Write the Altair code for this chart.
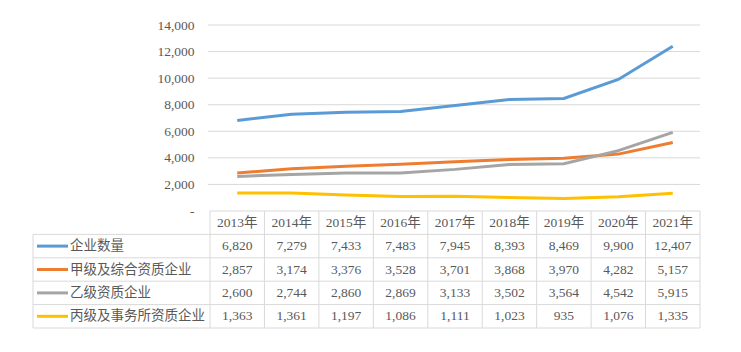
import altair as alt
import pandas as pd

# ---------------- data ----------------
years = ["2013年", "2014年", "2015年", "2016年", "2017年", "2018年", "2019年", "2020年", "2021年"]
series = ["企业数量", "甲级及综合资质企业", "乙级资质企业", "丙级及事务所资质企业"]
v_total = [6820, 7279, 7433, 7483, 7945, 8393, 8469, 9900, 12407]
v_jia = [2857, 3174, 3376, 3528, 3701, 3868, 3970, 4282, 5157]
v_yi = [2600, 2744, 2860, 2869, 3133, 3502, 3564, 4542, 5915]
v_bing = [1363, 1361, 1197, 1086, 1111, 1023, 935, 1076, 1335]
colors = ["#5b9bd5", "#ed7d31", "#a5a5a5", "#ffc000"]
y_ticks = [0, 2000, 4000, 6000, 8000, 10000, 12000, 14000]
header_key = "年份"

values = [v_total, v_jia, v_yi, v_bing]
rows = []
for s, vals in zip(series, values):
    for y, v in zip(years, vals):
        rows.append({"series": s, "year": y, "value": v, "label": f"{v:,}"})
df = pd.DataFrame(rows)

# ---------------- layout ----------------
W, H = 667, 303          # plot area
LABEL_W = 177            # label column of the table
LINE_H = 186             # height of the line-chart part
GRID = "#d9d9d9"
TEXT = "#595959"
SERIF = "Liberation Serif, Noto Sans CJK SC"
CJK = "Noto Sans CJK SC"

x_scale = alt.Scale(type="band", domain=years, range=[LABEL_W, W], paddingInner=0, paddingOuter=0)
y_line = alt.Scale(domain=[0, 14000], range=[LINE_H, 0], nice=False, zero=True)
y_tab = alt.Scale(type="band", domain=[header_key] + series, range=[LINE_H, H], paddingInner=0, paddingOuter=0)
c_scale = alt.Scale(domain=series, range=colors)

y_axis = alt.Axis(values=y_ticks, title=None, domain=False, ticks=False, tickSize=0,
                  grid=False, offset=-(LABEL_W - 2), labelPadding=14,
                  labelExpr="datum.value === 0 ? '-    ' : format(datum.value, ',')",
                  labelFont=SERIF, labelFontSize=13.5, labelColor=TEXT)

# gridlines + y axis
grid = alt.Chart(pd.DataFrame({"tick": y_ticks[1:]})).mark_rule(color=GRID, strokeWidth=1).encode(
    y=alt.Y("tick:Q", scale=y_line, axis=y_axis),
    x=alt.value(LABEL_W - 2), x2=alt.value(W),
)

lines = alt.Chart(df).mark_line(strokeWidth=3).encode(
    x=alt.X("year:N", scale=x_scale, bandPosition=0.5, axis=None),
    y=alt.Y("value:Q", scale=y_line, axis=y_axis),
    color=alt.Color("series:N", scale=c_scale, legend=None),
)

upper = alt.layer(grid, lines)

# ---------------- table ----------------
hdr_df = pd.DataFrame({"year": years, "row": header_key})
ser_df = pd.DataFrame({"series": series})

h_lines = alt.Chart(ser_df).mark_rule(color=GRID, strokeWidth=1).encode(
    y=alt.Y("series:N", scale=y_tab, bandPosition=0, axis=None),
    x=alt.value(0), x2=alt.value(W),
)
bottom_line = alt.Chart(ser_df.tail(1)).mark_rule(color=GRID, strokeWidth=1).encode(
    y=alt.Y("series:N", scale=y_tab, bandPosition=1, axis=None),
    x=alt.value(0), x2=alt.value(W),
)
top_line = alt.Chart(hdr_df.head(1)).mark_rule(color=GRID, strokeWidth=1).encode(
    y=alt.Y("row:N", scale=y_tab, bandPosition=0, axis=None),
    x=alt.value(LABEL_W), x2=alt.value(W),
)
v_lines = alt.Chart(hdr_df).mark_rule(color=GRID, strokeWidth=1).encode(
    x=alt.X("year:N", scale=x_scale, bandPosition=0, axis=None),
    y=alt.value(LINE_H), y2=alt.value(H),
)
right_line = alt.Chart(hdr_df.tail(1)).mark_rule(color=GRID, strokeWidth=1).encode(
    x=alt.X("year:N", scale=x_scale, bandPosition=1, axis=None),
    y=alt.value(LINE_H), y2=alt.value(H),
)
left_line = alt.Chart(ser_df.head(1)).mark_rule(color=GRID, strokeWidth=1).encode(
    y=alt.Y("series:N", scale=y_tab, bandPosition=0, axis=None),
    y2=alt.value(H),
    x=alt.value(0),
)

hdr_text = alt.Chart(hdr_df).mark_text(font=SERIF, fontSize=13.5, color=TEXT, baseline="middle").encode(
    x=alt.X("year:N", scale=x_scale, axis=None),
    y=alt.Y("row:N", scale=y_tab, axis=None),
    text="year:N",
)
val_text = alt.Chart(df).mark_text(font=SERIF, fontSize=13.5, color=TEXT, baseline="middle").encode(
    x=alt.X("year:N", scale=x_scale, axis=None),
    y=alt.Y("series:N", scale=y_tab, axis=None),
    text="label:N",
)
keys = alt.Chart(ser_df).mark_rule(strokeWidth=3).encode(
    y=alt.Y("series:N", scale=y_tab, bandPosition=0.5, axis=None),
    x=alt.value(4), x2=alt.value(35),
    color=alt.Color("series:N", scale=c_scale, legend=None),
)
key_text = alt.Chart(ser_df).mark_text(font=CJK, fontSize=13.5, color=TEXT, align="left", baseline="middle").encode(
    y=alt.Y("series:N", scale=y_tab, axis=None),
    x=alt.value(37),
    text="series:N",
)

table = alt.layer(h_lines, bottom_line, top_line, v_lines, right_line, left_line,
                  hdr_text, val_text, keys, key_text)

chart = alt.layer(upper, table).resolve_scale(y="independent").properties(
    width=W, height=H,
    padding={"left": 33, "top": 25, "right": 41, "bottom": 24},
    autosize=alt.AutoSizeParams(type="none"),
    background="white",
).configure_view(strokeWidth=0)

chart.save("out.html", embed_options={"renderer": "svg", "actions": False})
